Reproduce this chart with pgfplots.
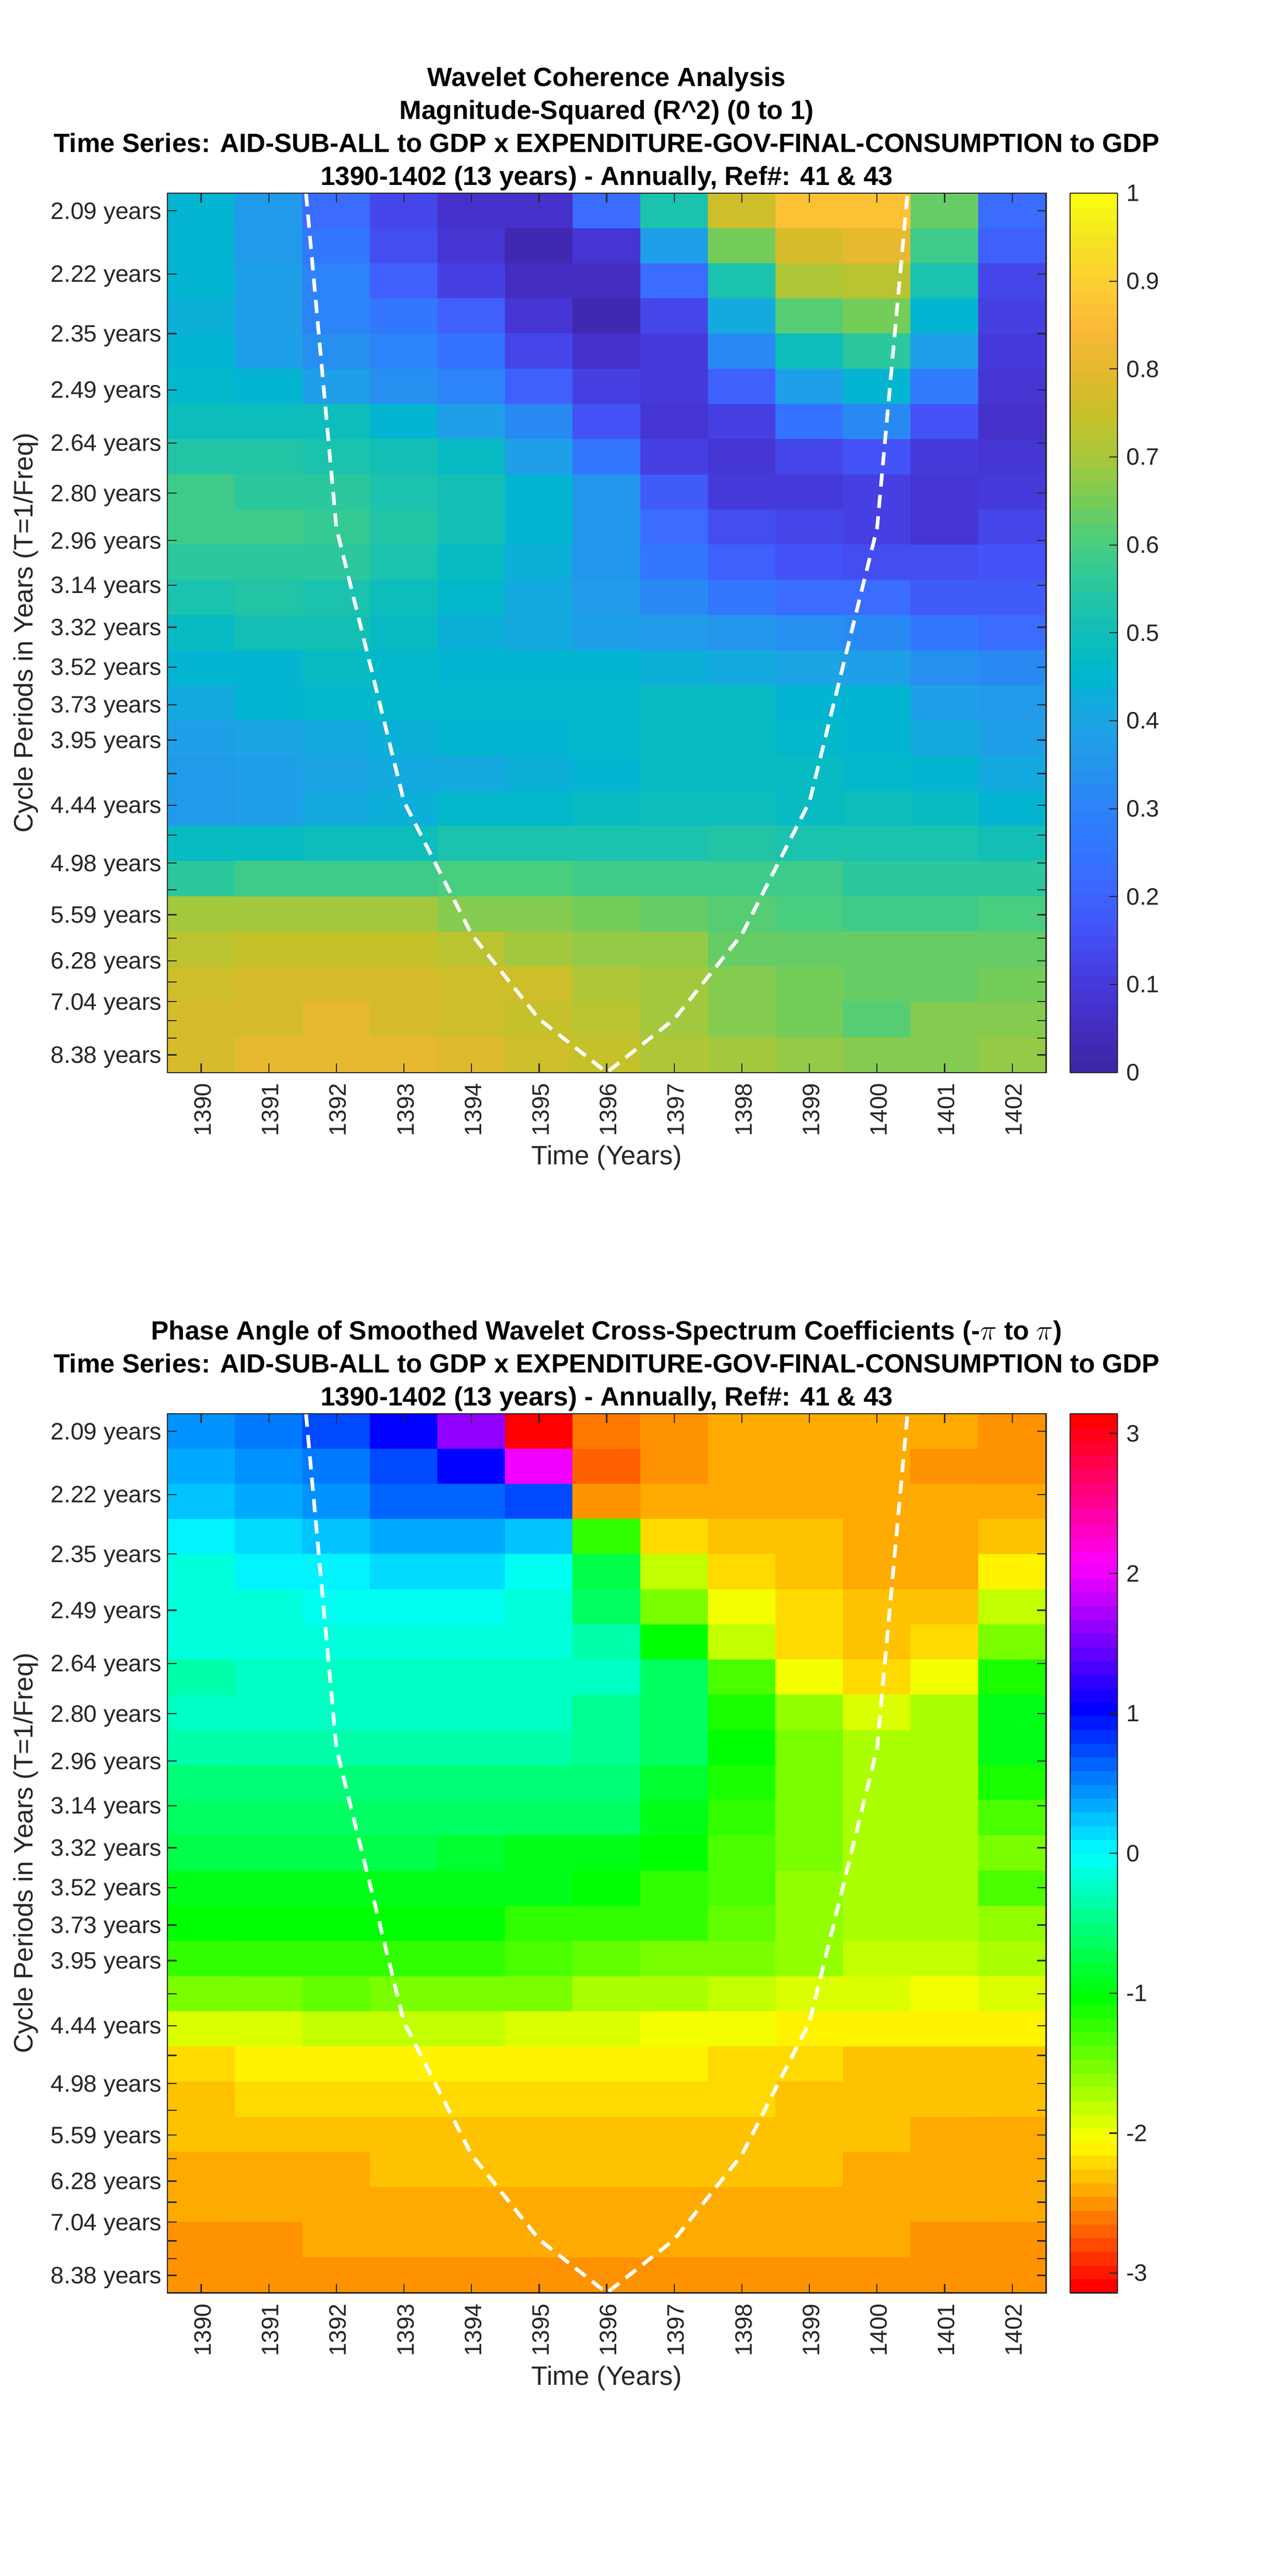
\documentclass[border=0pt]{standalone}
\usepackage{fontspec}
\setmainfont{Liberation Sans}
\usepackage{pgfplots}
\pgfplotsset{compat=1.18}

\definecolor{axisgray}{gray}{0.15}
\newcommand{\tickfont}{\fontsize{14.45}{16}\selectfont}
\newcommand{\labelfont}{\fontsize{16.2}{18}\selectfont}
\newcommand{\titlefont}{\fontsize{16.07}{20.07}\selectfont\bfseries}

\pgfplotsset{
  colormap={parulabase}{
    rgb255=(62,38,168) rgb255=(68,46,195) rgb255=(70,58,220) rgb255=(68,80,245)
    rgb255=(62,100,255) rgb255=(50,118,255) rgb255=(45,130,248) rgb255=(35,150,235)
    rgb255=(28,165,228) rgb255=(0,183,207) rgb255=(15,190,185) rgb255=(40,198,160)
    rgb255=(70,205,130) rgb255=(115,205,90) rgb255=(165,200,60) rgb255=(200,192,40)
    rgb255=(225,185,45) rgb255=(250,185,55) rgb255=(253,205,50) rgb255=(245,225,35)
    rgb255=(249,251,20)
  },
  colormap={hsvbase}{
    rgb255=(255,0,0) rgb255=(255,255,0) rgb255=(0,255,0) rgb255=(0,255,255)
    rgb255=(0,0,255) rgb255=(255,0,255) rgb255=(255,0,0)
  },
  colormap={parula64}{samples of colormap=(64 of parulabase)},
  colormap={hsv64}{samples of colormap=(64 of hsvbase)},
  panel/.style={
    scale only axis, width=533.1bp, height=533.5bp,
    anchor=south west,
    xmin=1389.5, xmax=1402.5, ymin=-0.5, ymax=24.5,
    y dir=reverse,
    axis on top,
    tick align=inside,
    major tick length=5.5bp,
    axis line style={axisgray, line width=0.7bp},
    tick style={axisgray, line width=0.7bp},
    xtick={1390,...,1402},
    xticklabel style={rotate=90, anchor=east, /pgf/number format/1000 sep=, /pgf/number format/assume math mode=true, font=\tickfont, text=axisgray, yshift=-1bp, xshift=-3bp},
    ytick={0,1.796,3.491,5.091,6.602,8.027,9.373,10.643,11.841,12.973,14.041,15.049,16,16.898,17.746,18.546,19.301,20.013,20.686,21.321,21.921,22.486,23.020,23.524,24},
    yticklabels={2.09 years,2.22 years,2.35 years,2.49 years,2.64 years,2.80 years,2.96 years,3.14 years,3.32 years,3.52 years,3.73 years,3.95 years,{},4.44 years,{},4.98 years,{},5.59 years,{},6.28 years,{},7.04 years,{},{},8.38 years},
    yticklabel style={font=\tickfont, text=axisgray, yshift=-1.5bp},
    xlabel={Time (Years)},
    ylabel={Cycle Periods in Years (T=1/Freq)},
    xlabel style={font=\labelfont, text=axisgray, at={(axis description cs:0.5,-0.097)}, anchor=center},
    ylabel style={font=\labelfont, text=axisgray, at={(axis description cs:-0.161,0.5)}, anchor=center, rotate=0},
    title style={font=\titlefont, align=center, at={(axis description cs:0.5,1)}, anchor=south, yshift=-8bp},
    colorbar sampled,
  },
  barstyle/.style={
    at={(parent axis.north east)}, anchor=north west, xshift=6bp,
    scale only axis, width=28.75bp, height=533.5bp,
    samples=65,
    ytick pos=right, yticklabel pos=right,
    tick align=inside,
    major tick length=5bp,
    axis line style={axisgray, line width=0.7bp},
    tick style={axisgray, line width=0.7bp},
    yticklabel style={font=\tickfont, text=axisgray, xshift=2bp, /pgf/number format/assume math mode=true, /pgf/number format/fixed},
  },
  coi/.style={white, line width=2.2bp, dash pattern=on 8bp off 5bp},
}

\begin{document}
\begin{tikzpicture}
\useasboundingbox (0,0) rectangle (781.25bp,1563bp);

% coherence
\begin{axis}[panel, at={(101.6bp,912.25bp)},
  title={Wavelet Coherence Analysis\\Magnitude-Squared (R\textasciicircum 2) (0 to 1)\\Time Series: AID-SUB-ALL to GDP x EXPENDITURE-GOV-FINAL-CONSUMPTION to GDP\\1390-1402 (13 years) - Annually, Ref\#: 41 \& 43},
  colormap name=parula64, colormap access=piecewise constant,
  point meta min=0, point meta max=1,
  colorbar style={barstyle, ytick={0,0.1,...,1}},
]
\addplot[matrix plot*, mesh/cols=13, point meta=explicit] coordinates {
(1390,0)[.45](1391,0)[.37](1392,0)[.23](1393,0)[.13](1394,0)[.07](1395,0)[.07](1396,0)[.22](1397,0)[.53](1398,0)[.75](1399,0)[.86](1400,0)[.86](1401,0)[.64](1402,0)[.22]
(1390,1)[.45](1391,1)[.37](1392,1)[.25](1393,1)[.15](1394,1)[.08](1395,1)[.03](1396,1)[.09](1397,1)[.38](1398,1)[.65](1399,1)[.78](1400,1)[.80](1401,1)[.59](1402,1)[.20]
(1390,2)[.44](1391,2)[.38](1392,2)[.30](1393,2)[.20](1394,2)[.12](1395,2)[.05](1396,2)[.05](1397,2)[.23](1398,2)[.52](1399,2)[.71](1400,2)[.73](1401,2)[.52](1402,2)[.14]
(1390,3)[.43](1391,3)[.38](1392,3)[.30](1393,3)[.26](1394,3)[.19](1395,3)[.09](1396,3)[.02](1397,3)[.14](1398,3)[.41](1399,3)[.61](1400,3)[.65](1401,3)[.44](1402,3)[.11]
(1390,4)[.45](1391,4)[.39](1392,4)[.33](1393,4)[.31](1394,4)[.24](1395,4)[.14](1396,4)[.07](1397,4)[.10](1398,4)[.32](1399,4)[.49](1400,4)[.55](1401,4)[.38](1402,4)[.10]
(1390,5)[.46](1391,5)[.45](1392,5)[.39](1393,5)[.34](1394,5)[.31](1395,5)[.19](1396,5)[.11](1397,5)[.10](1398,5)[.20](1399,5)[.39](1400,5)[.44](1401,5)[.27](1402,5)[.08]
(1390,6)[.49](1391,6)[.49](1392,6)[.49](1393,6)[.45](1394,6)[.39](1395,6)[.32](1396,6)[.16](1397,6)[.08](1398,6)[.12](1399,6)[.24](1400,6)[.32](1401,6)[.17](1402,6)[.07]
(1390,7)[.54](1391,7)[.54](1392,7)[.52](1393,7)[.50](1394,7)[.47](1395,7)[.38](1396,7)[.26](1397,7)[.12](1398,7)[.09](1399,7)[.14](1400,7)[.17](1401,7)[.10](1402,7)[.08]
(1390,8)[.58](1391,8)[.56](1392,8)[.56](1393,8)[.53](1394,8)[.50](1395,8)[.44](1396,8)[.35](1397,8)[.18](1398,8)[.10](1399,8)[.10](1400,8)[.11](1401,8)[.08](1402,8)[.10]
(1390,9)[.58](1391,9)[.58](1392,9)[.57](1393,9)[.54](1394,9)[.50](1395,9)[.44](1396,9)[.35](1397,9)[.22](1398,9)[.15](1399,9)[.13](1400,9)[.12](1401,9)[.09](1402,9)[.14]
(1390,10)[.56](1391,10)[.56](1392,10)[.55](1393,10)[.52](1394,10)[.47](1395,10)[.43](1396,10)[.35](1397,10)[.26](1398,10)[.20](1399,10)[.17](1400,10)[.15](1401,10)[.15](1402,10)[.16]
(1390,11)[.52](1391,11)[.54](1392,11)[.52](1393,11)[.49](1394,11)[.46](1395,11)[.42](1396,11)[.37](1397,11)[.32](1398,11)[.25](1399,11)[.23](1400,11)[.22](1401,11)[.18](1402,11)[.18]
(1390,12)[.47](1391,12)[.50](1392,12)[.50](1393,12)[.47](1394,12)[.43](1395,12)[.41](1396,12)[.39](1397,12)[.37](1398,12)[.35](1399,12)[.33](1400,12)[.32](1401,12)[.25](1402,12)[.23]
(1390,13)[.44](1391,13)[.45](1392,13)[.47](1393,13)[.46](1394,13)[.45](1395,13)[.44](1396,13)[.44](1397,13)[.43](1398,13)[.41](1399,13)[.40](1400,13)[.39](1401,13)[.34](1402,13)[.32]
(1390,14)[.41](1391,14)[.45](1392,14)[.46](1393,14)[.46](1394,14)[.46](1395,14)[.46](1396,14)[.46](1397,14)[.47](1398,14)[.47](1399,14)[.44](1400,14)[.44](1401,14)[.39](1402,14)[.37]
(1390,15)[.39](1391,15)[.40](1392,15)[.42](1393,15)[.43](1394,15)[.44](1395,15)[.45](1396,15)[.46](1397,15)[.47](1398,15)[.47](1399,15)[.46](1400,15)[.45](1401,15)[.42](1402,15)[.39]
(1390,16)[.36](1391,16)[.38](1392,16)[.40](1393,16)[.42](1394,16)[.42](1395,16)[.43](1396,16)[.45](1397,16)[.47](1398,16)[.47](1399,16)[.47](1400,16)[.46](1401,16)[.44](1402,16)[.41]
(1390,17)[.37](1391,17)[.38](1392,17)[.42](1393,17)[.43](1394,17)[.46](1395,17)[.46](1396,17)[.47](1397,17)[.49](1398,17)[.49](1399,17)[.48](1400,17)[.49](1401,17)[.47](1402,17)[.45]
(1390,18)[.47](1391,18)[.47](1392,18)[.49](1393,18)[.49](1394,18)[.52](1395,18)[.53](1396,18)[.53](1397,18)[.53](1398,18)[.54](1399,18)[.53](1400,18)[.52](1401,18)[.52](1402,18)[.50]
(1390,19)[.55](1391,19)[.58](1392,19)[.58](1393,19)[.58](1394,19)[.60](1395,19)[.60](1396,19)[.58](1397,19)[.58](1398,19)[.58](1399,19)[.58](1400,19)[.56](1401,19)[.56](1402,19)[.56]
(1390,20)[.69](1391,20)[.69](1392,20)[.69](1393,20)[.69](1394,20)[.66](1395,20)[.66](1396,20)[.65](1397,20)[.64](1398,20)[.62](1399,20)[.60](1400,20)[.59](1401,20)[.59](1402,20)[.60]
(1390,21)[.73](1391,21)[.74](1392,21)[.74](1393,21)[.74](1394,21)[.72](1395,21)[.70](1396,21)[.68](1397,21)[.68](1398,21)[.64](1399,21)[.63](1400,21)[.63](1401,21)[.63](1402,21)[.64]
(1390,22)[.75](1391,22)[.78](1392,22)[.78](1393,22)[.78](1394,22)[.76](1395,22)[.75](1396,22)[.71](1397,22)[.69](1398,22)[.66](1399,22)[.65](1400,22)[.63](1401,22)[.63](1402,22)[.65]
(1390,23)[.78](1391,23)[.78](1392,23)[.81](1393,23)[.77](1394,23)[.75](1395,23)[.74](1396,23)[.73](1397,23)[.69](1398,23)[.66](1399,23)[.65](1400,23)[.62](1401,23)[.66](1402,23)[.67]
(1390,24)[.77](1391,24)[.80](1392,24)[.81](1393,24)[.81](1394,24)[.79](1395,24)[.76](1396,24)[.74](1397,24)[.71](1398,24)[.69](1399,24)[.68](1400,24)[.66](1401,24)[.66](1402,24)[.68]
};
\addplot[coi] coordinates {(1391.55,-0.5)(1392,9.02)(1393,16.8)(1394,20.57)(1395,22.98)(1396,24.5)(1397,22.98)(1398,20.57)(1399,16.8)(1400,9.02)(1400.45,-0.5)};
\end{axis}

% phase
\begin{axis}[panel, at={(101.6bp,171.75bp)},
  title={Phase Angle of Smoothed Wavelet Cross-Spectrum Coefficients (-$\pi$ to $\pi$)\\Time Series: AID-SUB-ALL to GDP x EXPENDITURE-GOV-FINAL-CONSUMPTION to GDP\\1390-1402 (13 years) - Annually, Ref\#: 41 \& 43},
  colormap name=hsv64, colormap access=piecewise constant,
  point meta min=-3.14159, point meta max=3.14159,
  colorbar style={barstyle, ytick={-3,-2,-1,0,1,2,3}},
]
\addplot[matrix plot*, mesh/cols=13, point meta=explicit] coordinates {
(1390,0)[.45](1391,0)[.56](1392,0)[.73](1393,0)[1.05](1394,0)[1.6](1395,0)[3.05](1396,0)[-2.62](1397,0)[-2.52](1398,0)[-2.41](1399,0)[-2.41](1400,0)[-2.41](1401,0)[-2.41](1402,0)[-2.52]
(1390,1)[.33](1391,1)[.45](1392,1)[.55](1393,1)[.72](1394,1)[1.05](1395,1)[2.05](1396,1)[-2.7](1397,1)[-2.52](1398,1)[-2.41](1399,1)[-2.41](1400,1)[-2.41](1401,1)[-2.5](1402,1)[-2.5]
(1390,2)[.23](1391,2)[.37](1392,2)[.45](1393,2)[.6](1394,2)[.65](1395,2)[.72](1396,2)[-2.52](1397,2)[-2.41](1398,2)[-2.41](1399,2)[-2.41](1400,2)[-2.41](1401,2)[-2.41](1402,2)[-2.41]
(1390,3)[0](1391,3)[.17](1392,3)[.24](1393,3)[.33](1394,3)[.33](1395,3)[.22](1396,3)[-1.24](1397,3)[-2.22](1398,3)[-2.32](1399,3)[-2.32](1400,3)[-2.41](1401,3)[-2.41](1402,3)[-2.32]
(1390,4)[-.1](1391,4)[.02](1392,4)[.02](1393,4)[.12](1394,4)[.12](1395,4)[-.08](1396,4)[-.75](1397,4)[-1.81](1398,4)[-2.25](1399,4)[-2.32](1400,4)[-2.41](1401,4)[-2.41](1402,4)[-2.13]
(1390,5)[-.11](1391,5)[-.11](1392,5)[-.06](1393,5)[-.06](1394,5)[-.06](1395,5)[-.14](1396,5)[-.6](1397,5)[-1.55](1398,5)[-2.04](1399,5)[-2.22](1400,5)[-2.3](1401,5)[-2.3](1402,5)[-1.81]
(1390,6)[-.18](1391,6)[-.18](1392,6)[-.11](1393,6)[-.11](1394,6)[-.11](1395,6)[-.11](1396,6)[-.3](1397,6)[-1.0](1398,6)[-1.8](1399,6)[-2.21](1400,6)[-2.3](1401,6)[-2.21](1402,6)[-1.53]
(1390,7)[-.3](1391,7)[-.2](1392,7)[-.2](1393,7)[-.2](1394,7)[-.2](1395,7)[-.2](1396,7)[-.28](1397,7)[-.62](1398,7)[-1.35](1399,7)[-2.04](1400,7)[-2.22](1401,7)[-2.04](1402,7)[-1.12]
(1390,8)[-.28](1391,8)[-.28](1392,8)[-.28](1393,8)[-.28](1394,8)[-.28](1395,8)[-.25](1396,8)[-.45](1397,8)[-.65](1398,8)[-1.15](1399,8)[-1.6](1400,8)[-1.9](1401,8)[-1.7](1402,8)[-.95]
(1390,9)[-.37](1391,9)[-.37](1392,9)[-.37](1393,9)[-.37](1394,9)[-.37](1395,9)[-.37](1396,9)[-.45](1397,9)[-.67](1398,9)[-1.05](1399,9)[-1.55](1400,9)[-1.7](1401,9)[-1.7](1402,9)[-.97]
(1390,10)[-.5](1391,10)[-.5](1392,10)[-.5](1393,10)[-.5](1394,10)[-.5](1395,10)[-.5](1396,10)[-.53](1397,10)[-.8](1398,10)[-1.12](1399,10)[-1.53](1400,10)[-1.67](1401,10)[-1.67](1402,10)[-1.15]
(1390,11)[-.6](1391,11)[-.6](1392,11)[-.6](1393,11)[-.65](1394,11)[-.65](1395,11)[-.65](1396,11)[-.67](1397,11)[-.98](1398,11)[-1.2](1399,11)[-1.53](1400,11)[-1.7](1401,11)[-1.7](1402,11)[-1.28]
(1390,12)[-.77](1391,12)[-.77](1392,12)[-.77](1393,12)[-.77](1394,12)[-.85](1395,12)[-.93](1396,12)[-.95](1397,12)[-1.07](1398,12)[-1.3](1399,12)[-1.55](1400,12)[-1.7](1401,12)[-1.7](1402,12)[-1.5]
(1390,13)[-.95](1391,13)[-.95](1392,13)[-.95](1393,13)[-.95](1394,13)[-.95](1395,13)[-.97](1396,13)[-1.08](1397,13)[-1.22](1398,13)[-1.37](1399,13)[-1.63](1400,13)[-1.7](1401,13)[-1.7](1402,13)[-1.37]
(1390,14)[-1.08](1391,14)[-1.08](1392,14)[-1.08](1393,14)[-1.08](1394,14)[-1.08](1395,14)[-1.19](1396,14)[-1.19](1397,14)[-1.25](1398,14)[-1.4](1399,14)[-1.6](1400,14)[-1.7](1401,14)[-1.7](1402,14)[-1.6]
(1390,15)[-1.25](1391,15)[-1.25](1392,15)[-1.25](1393,15)[-1.25](1394,15)[-1.25](1395,15)[-1.33](1396,15)[-1.4](1397,15)[-1.5](1398,15)[-1.53](1399,15)[-1.65](1400,15)[-1.77](1401,15)[-1.77](1402,15)[-1.7]
(1390,16)[-1.5](1391,16)[-1.5](1392,16)[-1.4](1393,16)[-1.55](1394,16)[-1.55](1395,16)[-1.55](1396,16)[-1.67](1397,16)[-1.67](1398,16)[-1.8](1399,16)[-1.9](1400,16)[-1.9](1401,16)[-2.0](1402,16)[-1.9]
(1390,17)[-1.87](1391,17)[-1.87](1392,17)[-1.78](1393,17)[-1.8](1394,17)[-1.8](1395,17)[-1.87](1396,17)[-1.87](1397,17)[-1.98](1398,17)[-1.98](1399,17)[-2.1](1400,17)[-2.1](1401,17)[-2.1](1402,17)[-2.1]
(1390,18)[-2.21](1391,18)[-2.1](1392,18)[-2.1](1393,18)[-2.1](1394,18)[-2.1](1395,18)[-2.1](1396,18)[-2.1](1397,18)[-2.1](1398,18)[-2.21](1399,18)[-2.21](1400,18)[-2.3](1401,18)[-2.3](1402,18)[-2.3]
(1390,19)[-2.3](1391,19)[-2.21](1392,19)[-2.21](1393,19)[-2.21](1394,19)[-2.21](1395,19)[-2.21](1396,19)[-2.21](1397,19)[-2.21](1398,19)[-2.21](1399,19)[-2.3](1400,19)[-2.3](1401,19)[-2.3](1402,19)[-2.3]
(1390,20)[-2.3](1391,20)[-2.3](1392,20)[-2.3](1393,20)[-2.3](1394,20)[-2.3](1395,20)[-2.3](1396,20)[-2.3](1397,20)[-2.3](1398,20)[-2.3](1399,20)[-2.3](1400,20)[-2.3](1401,20)[-2.39](1402,20)[-2.39]
(1390,21)[-2.39](1391,21)[-2.39](1392,21)[-2.39](1393,21)[-2.3](1394,21)[-2.3](1395,21)[-2.3](1396,21)[-2.3](1397,21)[-2.3](1398,21)[-2.3](1399,21)[-2.3](1400,21)[-2.39](1401,21)[-2.39](1402,21)[-2.39]
(1390,22)[-2.39](1391,22)[-2.39](1392,22)[-2.39](1393,22)[-2.39](1394,22)[-2.39](1395,22)[-2.39](1396,22)[-2.39](1397,22)[-2.39](1398,22)[-2.39](1399,22)[-2.39](1400,22)[-2.39](1401,22)[-2.39](1402,22)[-2.39]
(1390,23)[-2.5](1391,23)[-2.5](1392,23)[-2.39](1393,23)[-2.39](1394,23)[-2.39](1395,23)[-2.39](1396,23)[-2.39](1397,23)[-2.39](1398,23)[-2.39](1399,23)[-2.39](1400,23)[-2.39](1401,23)[-2.5](1402,23)[-2.5]
(1390,24)[-2.5](1391,24)[-2.5](1392,24)[-2.5](1393,24)[-2.5](1394,24)[-2.5](1395,24)[-2.5](1396,24)[-2.5](1397,24)[-2.5](1398,24)[-2.5](1399,24)[-2.5](1400,24)[-2.5](1401,24)[-2.5](1402,24)[-2.5]
};
\addplot[coi] coordinates {(1391.55,-0.5)(1392,9.02)(1393,16.8)(1394,20.57)(1395,22.98)(1396,24.5)(1397,22.98)(1398,20.57)(1399,16.8)(1400,9.02)(1400.45,-0.5)};
\end{axis}
\end{tikzpicture}
\end{document}
